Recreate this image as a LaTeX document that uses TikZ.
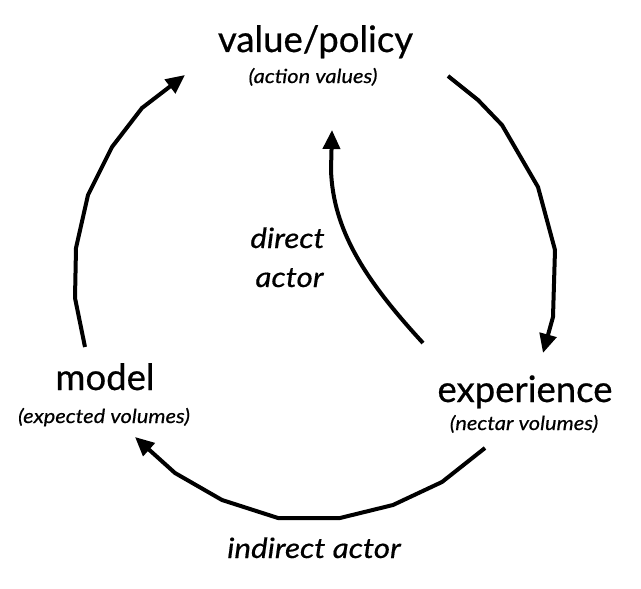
\documentclass[tikz,border=0pt]{standalone}
\usepackage{fontspec}
\setmainfont{Lato}
\newfontfamily\headfont{Lato}[FakeBold=0.6]
\newfontfamily\notefont{Lato}[FakeBold=0.5,FakeStretch=1.12]
\usetikzlibrary{arrows.meta}
\begin{document}
\begin{tikzpicture}[x=1pt,y=-1pt,
  title/.style={anchor=base,inner sep=0pt,font=\headfont\fontsize{36.5}{40}\selectfont},
  subtitle/.style={anchor=base,inner sep=0pt,font=\notefont\fontsize{19.5}{22}\selectfont\itshape},
  edgelabel/.style={anchor=base,inner sep=0pt,font=\notefont\fontsize{28}{30}\selectfont\itshape},
  flow/.style={line width=4pt,line join=round,-{Triangle[length=19pt,width=17pt]}}]
\useasboundingbox (0,0) rectangle (641,589);

% stages of the loop
\node[title]    (vp)    at (315.5,52) {value/policy};
\node[subtitle] (vpsub) at (313,83)   {(action values)};
\node[title]    (mod)    at (105,390) {model};
\node[subtitle] (modsub) at (104,423) {(expected volumes)};
\node[title]    (exp)    at (525,402) {experience};
\node[subtitle] (expsub) at (524,430) {(nectar volumes)};

% labels of the two routes
\node[edgelabel] (dir1) at (287.5,248) {direct};
\node[edgelabel] (dir2) at (289.5,287) {actor};
\node[edgelabel] (ind)  at (314,558)   {indirect actor};

% arrow end points
\coordinate (vpR)   at (448,76);
\coordinate (expT)  at (543,353);
\coordinate (expL)  at (485,448);
\coordinate (modT)  at (135,437);
\coordinate (modB)  at (85,347);
\coordinate (vpL)   at (185,75);
\coordinate (expD)  at (423,343);
\coordinate (vpD)   at (332,130);

% value/policy -> experience
\draw[flow] (vpR) -- (478,100) -- (502,125) -- (538,187) -- (555,250) -- (553,317) -- (expT);
% experience -> model (indirect actor)
\draw[flow] (expL) -- (442,482) -- (393,505) -- (340,518) -- (278,518) -- (222,500) -- (175,473) -- (modT);
% model -> value/policy
\draw[flow] (modB) -- (75,298) -- (76,248) -- (88,195) -- (112,147) -- (142,108) -- (vpL);
% experience -> value/policy (direct actor)
\draw[flow] (expD) .. controls (365,280) and (333,230) .. (331,170) -- (vpD);
\end{tikzpicture}
\end{document}
